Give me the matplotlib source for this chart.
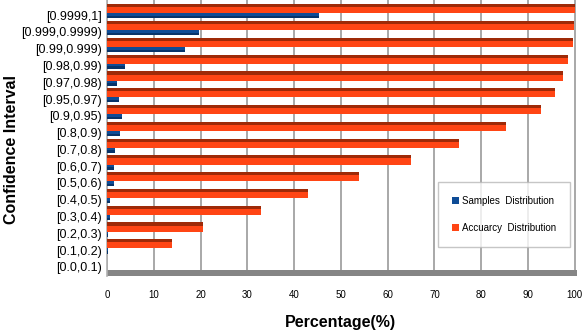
import matplotlib.pyplot as plt
import numpy as np

# confidence intervals, bottom to top
intervals = ["[0.0,0.1)", "[0.1,0.2)", "[0.2,0.3)", "[0.3,0.4)", "[0.4,0.5)",
             "[0.5,0.6)", "[0.6,0.7)", "[0.7,0.8)", "[0.8,0.9)", "[0.9,0.95)",
             "[0.95,0.97)", "[0.97,0.98)", "[0.98,0.99)", "[0.99,0.999)",
             "[0.999,0.9999)", "[0.9999,1]"]
samples = [0.1, 0.3, 0.3, 0.6, 0.7, 1.5, 1.5, 1.8, 2.8, 3.2,
           2.6, 2.1, 3.9, 16.7, 19.6, 45.3]
accuracy = [0.0, 13.9, 20.5, 33.0, 43.0, 53.8, 65.0, 75.2, 85.3, 92.7,
            95.9, 97.4, 98.5, 99.6, 99.8, 100.0]
x_ticks = [0, 10, 20, 30, 40, 50, 60, 70, 80, 90, 100]

plt.rcParams["font.family"] = ["Liberation Sans", "DejaVu Sans"]

fig = plt.figure(figsize=(5.82, 3.30), dpi=100)
ax = fig.add_axes([107 / 582, 54 / 330, 470 / 582, 276 / 330])

y = np.arange(len(intervals))

# accuracy bars: dark top face + bright front face
ax.barh(y + 0.28, accuracy, height=0.36, color="#ff4514", zorder=3)
ax.barh(y + 0.555, accuracy, height=0.19, color="#9e2a08", zorder=3)
# sample bars
ax.barh(y + 0.02, samples, height=0.16, color="#0e4c96", zorder=3)
ax.barh(y - 0.13, samples, height=0.14, color="#07346a", zorder=3)

# legend proxies
ax.barh([-5], [0], color="#0e4c96", label="Samples  Distribution")
ax.barh([-5], [0], color="#ff4514", label="Accuarcy  Distribution")

# floor strip
ax.axhspan(-0.54, -0.2, color="#858585", zorder=2, lw=0)

ax.set_xlim(0, 100.5)
ax.set_ylim(-0.54, 15.9)
ax.set_xticks(x_ticks)
ax.set_xticklabels([str(t) for t in x_ticks], fontsize=7)
ax.set_yticks(y)
ax.set_yticklabels(intervals, fontsize=9)
ax.tick_params(axis="both", length=0)
ax.tick_params(axis="x", pad=10)
ax.tick_params(axis="y", pad=4)

ax.grid(axis="x", color="#a8a8a8", linewidth=1.4, zorder=1)
for side in ["top", "right", "bottom"]:
    ax.spines[side].set_visible(False)
ax.spines["left"].set_color("#b0b0b0")
ax.spines["left"].set_linewidth(1.2)

fig.text(340 / 582, 1 - 322 / 330, "Percentage(%)", fontsize=11.5,
         fontweight="bold", ha="center", va="center")
fig.text(12 / 582, 1 - 150 / 330, "Confidence Interval", fontsize=11.5,
         fontweight="bold", ha="center", va="center", rotation=90)

leg = fig.legend(loc="center", bbox_to_anchor=(0.866, 0.35), fontsize=7,
                 frameon=True, fancybox=False, edgecolor="#b8b8b8",
                 handlelength=0.7, handleheight=0.7, labelspacing=1.8,
                 borderpad=1.4, handletextpad=0.3, borderaxespad=0)
leg.get_frame().set_linewidth(1.0)

fig.savefig("out.png", dpi=100)
